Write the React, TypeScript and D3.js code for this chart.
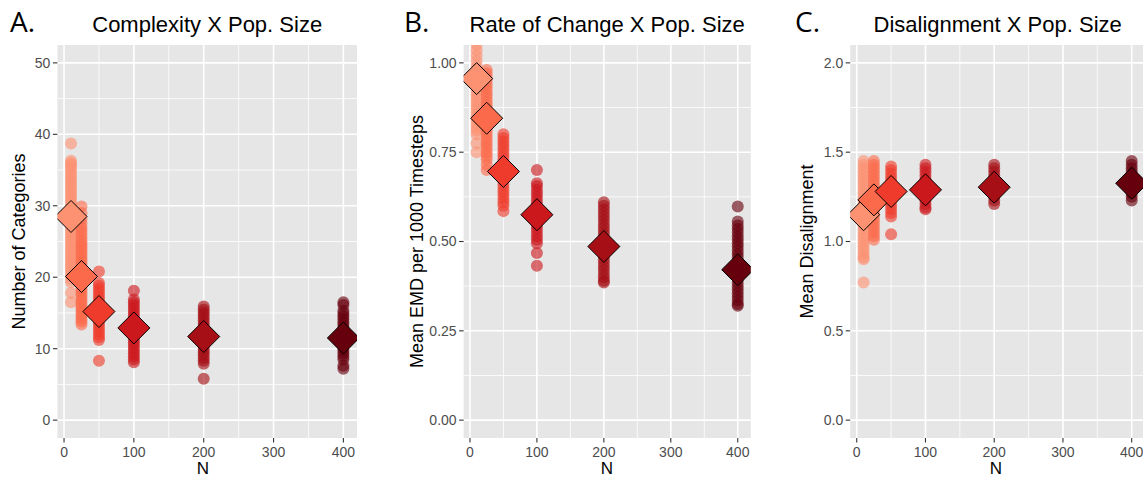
import React from "react";
import * as d3 from "d3";

// Population sizes shared by all three panels
const popSizes = [10, 25, 50, 100, 200, 400];
const groupColors = ["#FC9272", "#FB6A4A", "#EF3B2C", "#CB181D", "#A50F15", "#67000D"];
const xTicks = [0, 100, 200, 300, 400];

// A. Number of categories per run
const complexity10 = [38.7, 36.3, 36.0, 35.7, 35.4, 35.0, 34.6, 34.2, 33.8, 33.4, 33.0, 32.6, 32.2, 31.8, 31.4, 31.0, 30.6, 30.2, 29.8, 29.4, 29.0, 28.6, 28.2, 27.8, 27.4, 27.0, 26.6, 26.2, 25.8, 25.4, 25.0, 24.6, 24.2, 23.8, 23.4, 23.0, 22.6, 22.2, 21.8, 21.4, 21.0, 20.6, 20.2, 19.8, 19.3, 17.8, 16.5];
const complexity25 = [29.9, 29.0, 28.2, 27.6, 27.0, 26.5, 26.0, 25.5, 25.0, 24.6, 24.2, 23.8, 23.4, 23.0, 22.6, 22.2, 21.8, 21.4, 21.0, 20.6, 20.2, 19.8, 19.4, 19.0, 18.6, 18.2, 17.8, 17.4, 17.0, 16.6, 16.2, 15.8, 15.4, 15.0, 14.6, 14.2, 13.8, 13.4];
const complexity50 = [20.8, 19.2, 18.8, 18.4, 18.0, 17.6, 17.2, 16.8, 16.4, 16.0, 15.6, 15.2, 14.8, 14.4, 14.0, 13.6, 13.2, 12.8, 12.4, 12.0, 11.6, 11.2, 8.3];
const complexity100 = [18.1, 16.9, 16.5, 16.1, 15.7, 15.3, 14.9, 14.5, 14.1, 13.7, 13.3, 12.9, 12.5, 12.1, 11.7, 11.3, 10.9, 10.5, 10.1, 9.7, 9.3, 8.9, 8.5, 8.1];
const complexity200 = [15.9, 15.5, 15.1, 14.7, 14.3, 13.9, 13.5, 13.1, 12.7, 12.3, 11.9, 11.5, 11.1, 10.7, 10.3, 9.9, 9.5, 9.1, 8.7, 8.3, 7.9, 5.8];
const complexity400 = [16.5, 16.1, 15.3, 14.9, 14.5, 14.1, 13.7, 13.3, 12.9, 12.5, 12.1, 11.7, 11.3, 10.9, 10.5, 10.1, 9.7, 9.3, 8.9, 8.5, 7.6, 7.2];
const complexityMeans = [28.5, 20.1, 15.2, 12.9, 11.7, 11.5];
const complexityTicks = [0, 10, 20, 30, 40, 50];

// B. Mean EMD per 1000 timesteps per run
const emd10 = [1.16, 1.14, 1.12, 1.1, 1.08, 1.065, 1.05, 1.035, 1.02, 1.005, 0.99, 0.98, 0.97, 0.96, 0.95, 0.94, 0.93, 0.92, 0.91, 0.9, 0.89, 0.88, 0.87, 0.86, 0.85, 0.84, 0.83, 0.82, 0.81, 0.8, 0.775, 0.75];
const emd25 = [0.98, 0.97, 0.96, 0.95, 0.94, 0.93, 0.92, 0.91, 0.9, 0.89, 0.88, 0.87, 0.86, 0.85, 0.84, 0.83, 0.82, 0.81, 0.8, 0.79, 0.78, 0.77, 0.76, 0.75, 0.74, 0.73, 0.715, 0.7];
const emd50 = [0.8, 0.79, 0.78, 0.77, 0.76, 0.75, 0.74, 0.73, 0.72, 0.71, 0.7, 0.69, 0.68, 0.67, 0.66, 0.65, 0.64, 0.63, 0.62, 0.61, 0.6, 0.585];
const emd100 = [0.7, 0.663, 0.655, 0.645, 0.635, 0.625, 0.615, 0.605, 0.595, 0.585, 0.575, 0.565, 0.555, 0.545, 0.535, 0.525, 0.515, 0.505, 0.495, 0.468, 0.432];
const emd200 = [0.61, 0.6, 0.59, 0.58, 0.57, 0.56, 0.55, 0.54, 0.53, 0.52, 0.51, 0.5, 0.49, 0.48, 0.47, 0.46, 0.45, 0.44, 0.43, 0.42, 0.41, 0.4, 0.39, 0.385];
const emd400 = [0.598, 0.556, 0.545, 0.535, 0.525, 0.515, 0.505, 0.495, 0.485, 0.475, 0.465, 0.455, 0.445, 0.435, 0.425, 0.415, 0.405, 0.395, 0.385, 0.375, 0.365, 0.355, 0.345, 0.335, 0.325, 0.32];
const emdMeans = [0.956, 0.845, 0.696, 0.575, 0.486, 0.421];
const emdTicks = [0, 0.25, 0.5, 0.75, 1.0];

// C. Mean disalignment per run
const disalign10 = [1.45, 1.43, 1.41, 1.39, 1.37, 1.35, 1.33, 1.31, 1.29, 1.27, 1.25, 1.23, 1.21, 1.19, 1.17, 1.15, 1.13, 1.11, 1.09, 1.07, 1.05, 1.03, 1.01, 0.99, 0.97, 0.95, 0.93, 0.91, 0.9, 0.77];
const disalign25 = [1.45, 1.43, 1.41, 1.39, 1.37, 1.35, 1.33, 1.31, 1.29, 1.27, 1.25, 1.23, 1.21, 1.19, 1.17, 1.15, 1.13, 1.11, 1.09, 1.07, 1.05, 1.03, 1.01];
const disalign50 = [1.42, 1.4, 1.38, 1.36, 1.34, 1.32, 1.3, 1.28, 1.26, 1.24, 1.22, 1.2, 1.18, 1.16, 1.14, 1.04];
const disalign100 = [1.43, 1.41, 1.39, 1.37, 1.35, 1.33, 1.31, 1.29, 1.27, 1.25, 1.23, 1.21, 1.19, 1.18];
const disalign200 = [1.43, 1.41, 1.39, 1.37, 1.35, 1.33, 1.31, 1.29, 1.27, 1.25, 1.23, 1.21];
const disalign400 = [1.45, 1.43, 1.41, 1.39, 1.37, 1.35, 1.33, 1.31, 1.29, 1.27, 1.25, 1.23];
const disalignMeans = [1.15, 1.233, 1.28, 1.289, 1.304, 1.326];
const disalignTicks = [0, 0.5, 1.0, 1.5, 2.0];

type PanelSpec = {
  letter: string;
  title: string;
  yTitle: string;
  runs: number[][];
  means: number[];
  yTicks: number[];
  yLimits: [number, number];
  yFormat: (v: number) => string;
  left: number;
  right: number;
  letterX: number;
  yTitleX: number;
  xTitleX: number;
};

const W = 1143;
const H = 478;
const TOP = 45;
const BOTTOM = 438;
const FONT = "'Liberation Sans', Arial, Helvetica, sans-serif";

const panels: PanelSpec[] = [
  {
    letter: "A.",
    title: "Complexity X Pop. Size",
    yTitle: "Number of Categories",
    runs: [complexity10, complexity25, complexity50, complexity100, complexity200, complexity400],
    means: complexityMeans,
    yTicks: complexityTicks,
    yLimits: [0, 50],
    yFormat: d3.format("d"),
    left: 57.4,
    right: 357,
    letterX: 10,
    yTitleX: 25,
    xTitleX: 203,
  },
  {
    letter: "B.",
    title: "Rate of Change X Pop. Size",
    yTitle: "Mean EMD per 1000 Timesteps",
    runs: [emd10, emd25, emd50, emd100, emd200, emd400],
    means: emdMeans,
    yTicks: emdTicks,
    yLimits: [0, 1],
    yFormat: d3.format(".2f"),
    left: 463.6,
    right: 750.8,
    letterX: 404,
    yTitleX: 423,
    xTitleX: 607,
  },
  {
    letter: "C.",
    title: "Disalignment X Pop. Size",
    yTitle: "Mean Disalignment",
    runs: [disalign10, disalign25, disalign50, disalign100, disalign200, disalign400],
    means: disalignMeans,
    yTicks: disalignTicks,
    yLimits: [0, 2],
    yFormat: d3.format(".1f"),
    left: 850.2,
    right: 1145.1,
    letterX: 795,
    yTitleX: 813,
    xTitleX: 996,
  },
];

function expand([a, b]: [number, number], f = 0.05): [number, number] {
  const d = (b - a) * f;
  return [a - d, b + d];
}

function Panel({ p, idx }: { p: PanelSpec; idx: number }) {
  const xExt = expand(d3.extent(popSizes) as [number, number]);
  const x = d3.scaleLinear().domain(xExt).range([p.left, p.right]);
  const y = d3.scaleLinear().domain(expand(p.yLimits)).range([BOTTOM, TOP]);

  const step = p.yTicks[1] - p.yTicks[0];
  const yMinor = p.yTicks.slice(0, -1).map((t) => t + step / 2);
  const xMinor = xTicks.slice(0, -1).map((t) => t + 50);
  const clipId = `clip-${idx}`;
  const half = 16;
  const diamond = (cx: number, cy: number) =>
    d3.line()([
      [cx, cy - half],
      [cx + half, cy],
      [cx, cy + half],
      [cx - half, cy],
      [cx, cy - half],
    ]) as string;
  const midY = (TOP + BOTTOM) / 2;
  const midX = (p.left + p.right) / 2;

  return (
    <g>
      <defs>
        <clipPath id={clipId}>
          <rect x={p.left} y={TOP} width={p.right - p.left} height={BOTTOM - TOP} />
        </clipPath>
      </defs>
      <rect x={p.left} y={TOP} width={p.right - p.left} height={BOTTOM - TOP} fill="#E6E6E6" />
      {yMinor.map((t) => (
        <line key={`ym${t}`} x1={p.left} x2={p.right} y1={y(t)} y2={y(t)} stroke="#fff" strokeWidth={0.8} />
      ))}
      {xMinor.map((t) => (
        <line key={`xm${t}`} x1={x(t)} x2={x(t)} y1={TOP} y2={BOTTOM} stroke="#fff" strokeWidth={0.8} />
      ))}
      {p.yTicks.map((t) => (
        <line key={`yM${t}`} x1={p.left} x2={p.right} y1={y(t)} y2={y(t)} stroke="#fff" strokeWidth={1.6} />
      ))}
      {xTicks.map((t) => (
        <line key={`xM${t}`} x1={x(t)} x2={x(t)} y1={TOP} y2={BOTTOM} stroke="#fff" strokeWidth={1.6} />
      ))}
      <g clipPath={`url(#${clipId})`}>
        {p.runs.map((vals, gi) =>
          vals.map((v, i) => (
            <circle
              key={`p${gi}-${i}`}
              cx={x(popSizes[gi])}
              cy={y(v)}
              r={6}
              fill={groupColors[gi]}
              fillOpacity={0.62}
            />
          ))
        )}
        {p.means.map((m, gi) => (
          <path
            key={`d${gi}`}
            d={diamond(x(popSizes[gi]), y(m))}
            fill={groupColors[gi]}
            stroke="#000"
            strokeWidth={1}
          />
        ))}
      </g>
      {/* y axis */}
      {p.yTicks.map((t) => (
        <g key={`yt${t}`}>
          <line x1={p.left - 4.5} x2={p.left} y1={y(t)} y2={y(t)} stroke="#333" strokeWidth={1.1} />
          <text
            x={p.left - 7}
            y={y(t)}
            dy="0.35em"
            textAnchor="end"
            fontSize={14}
            fill="#4D4D4D"
            fontFamily={FONT}
          >
            {p.yFormat(t)}
          </text>
        </g>
      ))}
      {/* x axis */}
      {xTicks.map((t) => (
        <g key={`xt${t}`}>
          <line x1={x(t)} x2={x(t)} y1={BOTTOM} y2={BOTTOM + 4.5} stroke="#333" strokeWidth={1.1} />
          <text x={x(t)} y={456.5} textAnchor="middle" fontSize={14} fill="#4D4D4D" fontFamily={FONT}>
            {t}
          </text>
        </g>
      ))}
      <text x={p.xTitleX} y={474} textAnchor="middle" fontSize={17} fill="#000" fontFamily={FONT}>
        N
      </text>
      <text
        transform={`translate(${p.yTitleX},${midY}) rotate(-90)`}
        textAnchor="middle"
        fontSize={18}
        fill="#000"
        fontFamily={FONT}
      >
        {p.yTitle}
      </text>
      <text x={midX} y={31.5} textAnchor="middle" fontSize={22} fill="#000" fontFamily={FONT}>
        {p.title}
      </text>
      <text x={p.letterX} y={32} fontSize={28} fill="#000" fontFamily="'Open Sans', sans-serif">
        {p.letter}
      </text>
    </g>
  );
}

export default function App() {
  return (
    <>
      <style>{`body{margin:0;}`}</style>
      <svg width={W} height={H} style={{ display: "block", background: "#fff" }}>
        {panels.map((p, i) => (
          <Panel key={p.letter} p={p} idx={i} />
        ))}
      </svg>
    </>
  );
}
